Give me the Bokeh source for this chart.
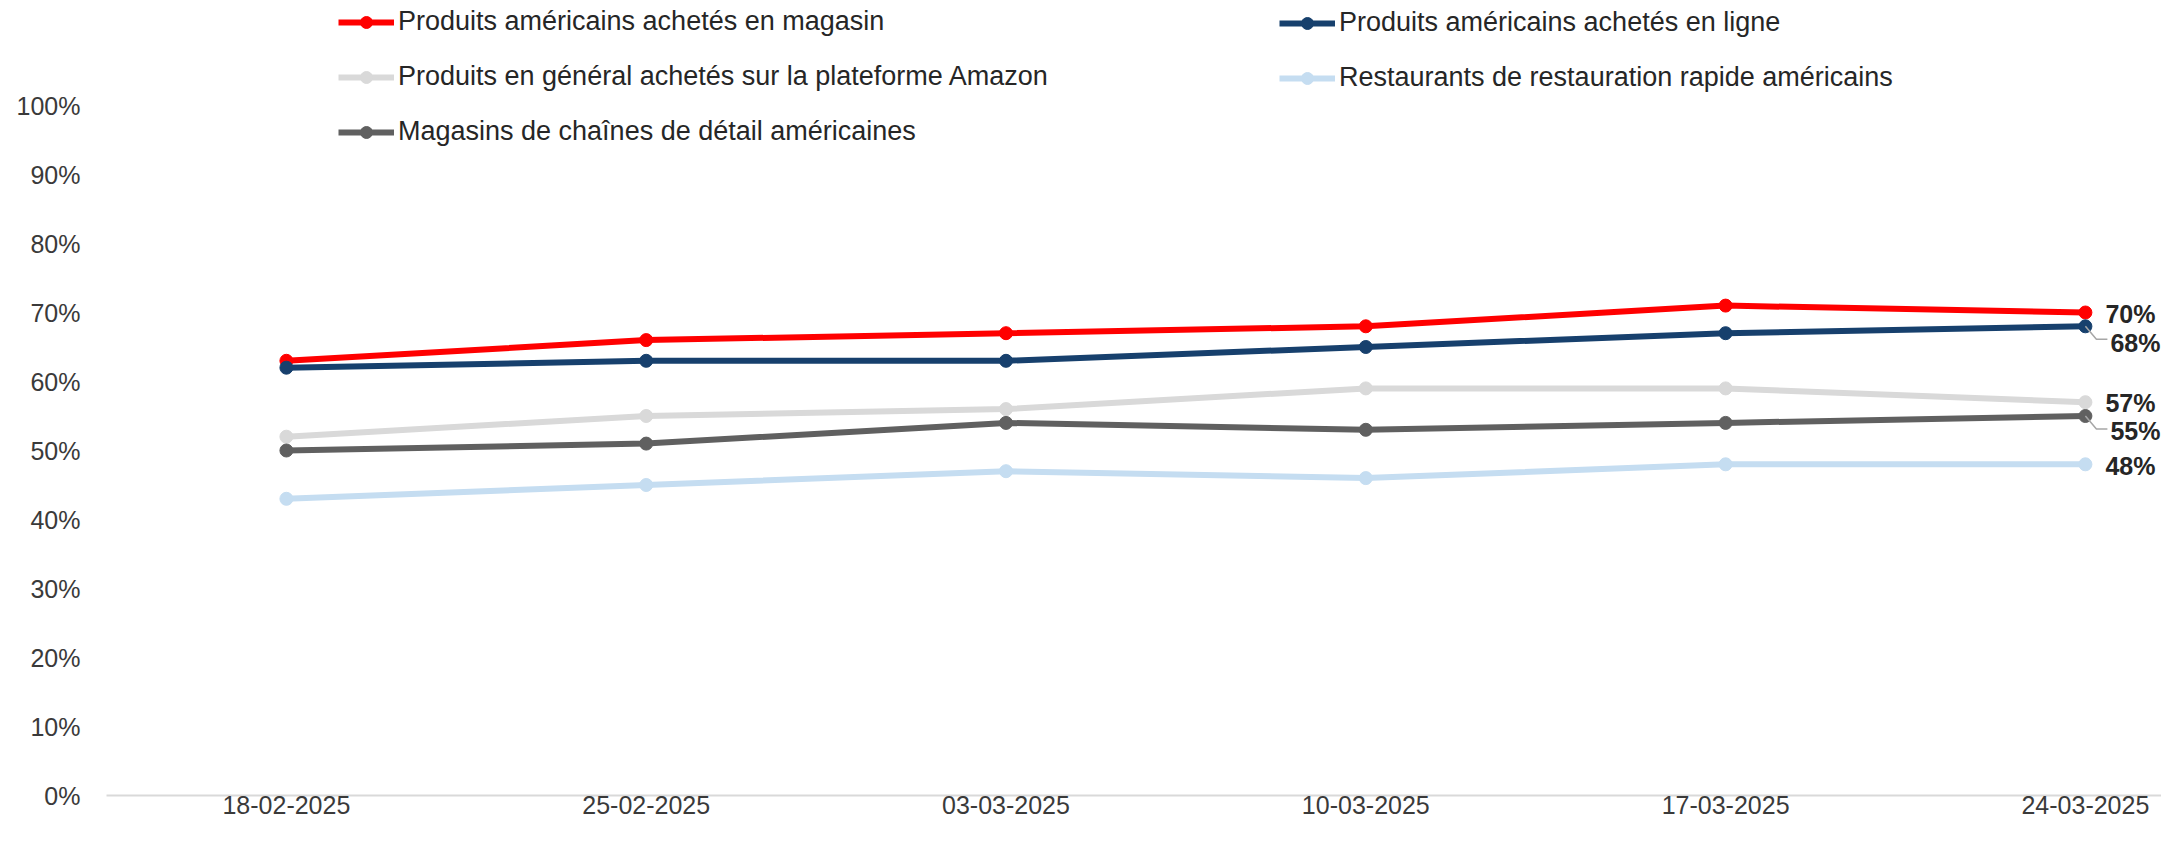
from bokeh.plotting import figure
from bokeh.models import (Range1d, FixedTicker, PrintfTickFormatter, Legend, LegendItem,
                          ColumnDataSource)
from bokeh.core.properties import value
from bokeh.embed import file_html
from bokeh.resources import INLINE

# ---- data ----
dates = ["18-02-2025", "25-02-2025", "03-03-2025", "10-03-2025", "17-03-2025", "24-03-2025"]
magasin = [63, 66, 67, 68, 71, 70]
en_ligne = [62, 63, 63, 65, 67, 68]
amazon = [52, 55, 56, 59, 59, 57]
fastfood = [43, 45, 47, 46, 48, 48]
chaines = [50, 51, 54, 53, 54, 55]

names = [
    "Produits américains achetés en magasin",
    "Produits américains achetés en ligne",
    "Produits en général achetés sur la plateforme Amazon",
    "Restaurants de restauration rapide américains",
    "Magasins de chaînes de détail américaines",
]
series = [magasin, en_ligne, amazon, fastfood, chaines]
colors = ["#FF0000", "#17406D", "#D9D9D9", "#C5DDF1", "#606060"]

# label offsets (screen px) for end labels: (dx, dy-down)
label_dx = [20, 25, 20, 20, 25]
label_dy = [1, 17, 1, 2, 15]
leader = [False, True, False, False, True]

FONT = "Liberation Sans"
W, H = 2161, 825
LEFT, BOTTOM = 106, 30
frame_w = W - LEFT
frame_h = H - BOTTOM
px_per_x = 359.8
px_per_y = 6.9
x0 = -0.5
x1 = x0 + frame_w / px_per_x
y1 = frame_h / px_per_y

xs = list(range(len(dates)))

p = figure(width=W, height=H, output_backend="svg", toolbar_location=None,
           x_range=Range1d(x0, x1), y_range=Range1d(0, y1),
           min_border_left=LEFT, min_border_right=0, min_border_top=0,
           min_border_bottom=BOTTOM)
p.outline_line_color = None
p.grid.visible = False
p.background_fill_color = "white"

# axes
p.xaxis.ticker = FixedTicker(ticks=xs)
p.xaxis.major_label_overrides = {i: d for i, d in enumerate(dates)}
p.xaxis.axis_line_color = "#D9D9D9"
p.xaxis.axis_line_width = 2
p.xaxis.major_tick_line_color = None
p.xaxis.minor_tick_line_color = None
p.xaxis.major_tick_out = 0
p.xaxis.major_tick_in = 0
p.xaxis.major_label_standoff = 0
p.xaxis.major_label_text_font = FONT
p.xaxis.major_label_text_font_size = "25px"
p.xaxis.major_label_text_color = "#3A3A3A"

p.yaxis.ticker = FixedTicker(ticks=list(range(0, 101, 10)))
p.yaxis.formatter = PrintfTickFormatter(format="%d%%")
p.yaxis.axis_line_color = None
p.yaxis.major_tick_line_color = None
p.yaxis.minor_tick_line_color = None
p.yaxis.major_tick_out = 0
p.yaxis.major_label_standoff = 26
p.yaxis.major_label_text_font = FONT
p.yaxis.major_label_text_font_size = "25px"
p.yaxis.major_label_text_color = "#3A3A3A"

items = []
for name, vals, col in zip(names, series, colors):
    src = ColumnDataSource(dict(x=xs, y=vals))
    lr = p.line("x", "y", source=src, line_color=col, line_width=6)
    sr = p.scatter("x", "y", source=src, size=13, fill_color=col, line_color=col)
    items.append(LegendItem(label=name, renderers=[lr, sr]))

# leader lines
for vals, lead in zip(series, leader):
    if lead:
        xe, ye = xs[-1], vals[-1]
        p.line([xe, xe + 11 / px_per_x, xe + 22 / px_per_x],
               [ye, ye - 13 / px_per_y, ye - 13 / px_per_y],
               line_color="#A6A6A6", line_width=1.5)

# end labels
lab = ColumnDataSource(dict(
    x=[xs[-1]] * len(series),
    y=[s[-1] for s in series],
    text=[f"{s[-1]}%" for s in series],
    dx=label_dx, dy=label_dy))
p.text("x", "y", text="text", source=lab, x_offset="dx", y_offset="dy",
       text_font=value(FONT), text_font_style="bold", text_font_size="25px",
       text_color="#262626", text_baseline="middle", text_align="left")

def make_legend(its, loc):
    lg = Legend(items=its, location=loc, orientation="vertical",
                glyph_width=56, glyph_height=30, label_height=30, spacing=24,
                label_standoff=4, padding=0, margin=0,
                border_line_color=None, background_fill_alpha=0,
                label_text_font=FONT, label_text_font_size="27px",
                label_text_color="#262626")
    return lg

leg1 = make_legend([items[0], items[2], items[4]], (232, 648))
leg2 = make_legend([items[1], items[3]], (1173, 702))
p.add_layout(leg1, "center")
p.add_layout(leg2, "center")

open("out.html", "w").write(file_html(p, INLINE))
